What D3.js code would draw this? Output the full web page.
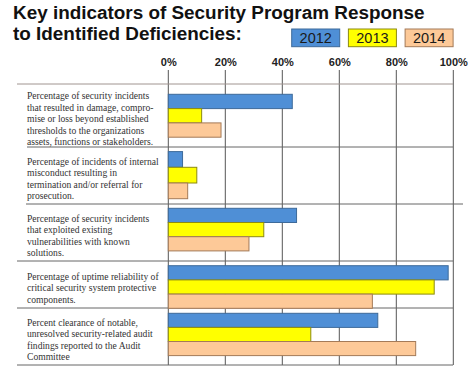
<!DOCTYPE html>
<html>
<head>
<meta charset="utf-8">
<script src="https://cdn.jsdelivr.net/npm/d3@7"></script>
<style>
  body { margin: 0; background: #fff; }
  svg { display: block; }
</style>
</head>
<body>
<div id="chart"></div>
<script>
// data
const years = ["2012", "2013", "2014"];
const indicators = [
  ["Percentage of security incidents", "that resulted in damage, compro-", "mise or loss beyond established", "thresholds to the organizations", "assets, functions or stakeholders."],
  ["Percentage of incidents of internal", "misconduct resulting in", "termination and/or referral for", "prosecution."],
  ["Percentage of security incidents", "that exploited existing", "vulnerabilities with known", "solutions."],
  ["Percentage of uptime reliability of", "critical security system protective", "components."],
  ["Percent clearance of notable,", "unresolved security-related audit", "findings reported to the Audit", "Committee"]
];
const values2012 = [43.5, 5, 45, 98.2, 73.5];
const values2013 = [11.7, 10, 33.5, 93.3, 50];
const values2014 = [18.5, 6.8, 28.3, 71.6, 86.8];
const ticks = [0, 20, 40, 60, 80, 100];

const series = [values2012, values2013, values2014];
const colors = { "2012": "#4f8fd6", "2013": "#ffff00", "2014": "#fdc998" };
const strokes = { "2012": "#3d6a9a", "2013": "#8c8a10", "2014": "#a47a58" };

// layout (rows are not all the same height in the original)
const W = 474, H = 381;
const rowEdges = [84, 147, 204, 261, 308, 365];
const barTop = [94.3, 151.6, 208.3, 265.7, 313.3];
const barH = [14.3, 15.7, 14.2, 14.2, 14.1];
const lineStart = [17, 27, 26, 17, 17, 17];
const lineEnd = [453, 453, 463, 453, 453, 453];

const svg = d3.select("#chart").append("svg")
  .attr("width", W).attr("height", H);

const x = d3.scaleLinear().domain([0, 100]).range([168.3, 453.3]);

// title
const title = svg.append("text")
  .attr("font-family", "Liberation Sans, Arial, sans-serif")
  .attr("font-weight", "bold")
  .attr("font-size", 18.9)
  .attr("fill", "#111");
title.append("tspan").attr("x", 13).attr("y", 18.5).text("Key indicators of Security Program Response");
title.append("tspan").attr("x", 13).attr("y", 39.5).text("to Identified Deficiencies:");

// legend boxes
const legend = svg.append("g");
years.forEach((yr, i) => {
  const lx = 291.7 + i * 56.7;
  legend.append("rect")
    .attr("x", lx).attr("y", 29).attr("width", 48).attr("height", 17.7)
    .attr("fill", colors[yr]).attr("stroke", strokes[yr]).attr("stroke-width", 1);
  legend.append("text")
    .attr("x", lx + 24).attr("y", 43)
    .attr("text-anchor", "middle")
    .attr("font-family", "Liberation Sans, Arial, sans-serif")
    .attr("font-size", 14.5)
    .attr("fill", "#1a1a1a")
    .text(yr);
});

// axis: tick labels on top, grid lines down through the rows
const axis = d3.axisTop(x).tickValues(ticks).tickFormat(d => d + "%").tickSize(0);
const axisG = svg.append("g").attr("transform", "translate(0,66)").call(axis);
axisG.select(".domain").remove();
axisG.selectAll("text")
  .attr("dy", 0).attr("y", 0)
  .attr("font-family", "Liberation Sans, Arial, sans-serif")
  .attr("font-weight", "bold")
  .attr("font-size", 11)
  .attr("fill", "#222");

svg.append("g").selectAll("line")
  .data(ticks)
  .join("line")
  .attr("x1", d => x(d)).attr("x2", d => x(d))
  .attr("y1", 70).attr("y2", rowEdges[rowEdges.length - 1])
  .attr("stroke", "#555").attr("stroke-width", 1);

// horizontal row separators
svg.append("g").selectAll("line")
  .data(rowEdges)
  .join("line")
  .attr("x1", (d, i) => lineStart[i]).attr("x2", (d, i) => lineEnd[i])
  .attr("y1", d => d).attr("y2", d => d)
  .attr("stroke", (d, i) => i === 0 ? "#a09490" : "#666")
  .attr("stroke-width", 1);

// bars
indicators.forEach((lines, r) => {
  const y = d3.scaleBand().domain(years)
    .range([barTop[r], barTop[r] + 3 * barH[r]]).padding(0);
  svg.append("g").selectAll("rect")
    .data(years.map((yr, k) => ({ yr, v: series[k][r] })))
    .join("rect")
    .attr("x", x(0))
    .attr("y", d => y(d.yr))
    .attr("width", d => x(d.v) - x(0))
    .attr("height", y.bandwidth())
    .attr("fill", d => colors[d.yr])
    .attr("stroke", d => strokes[d.yr])
    .attr("stroke-width", 1);

  // label block, centred a little below the middle of the row
  const mid = (rowEdges[r] + rowEdges[r + 1]) / 2 + 3;
  const lh = 11.4;
  const first = mid - (lines.length - 1) * lh / 2;
  svg.append("g").selectAll("text")
    .data(lines)
    .join("text")
    .attr("x", 27)
    .attr("y", (d, i) => first + i * lh + 3.6)
    .attr("font-family", "Liberation Serif, Times New Roman, serif")
    .attr("font-size", 9.6)
    .attr("fill", "#333")
    .text(d => d);
});
</script>
</body>
</html>
